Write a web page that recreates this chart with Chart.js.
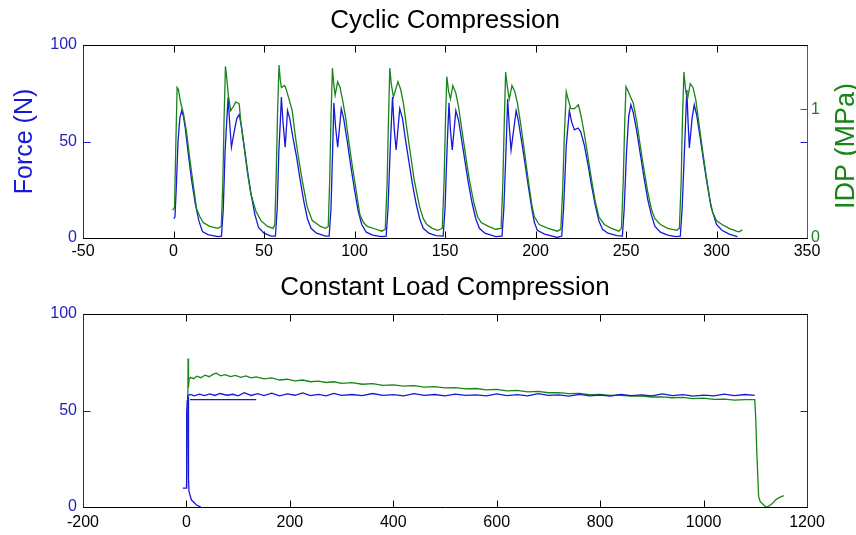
<!DOCTYPE html>
<html>
<head>
<meta charset="utf-8">
<script src="https://cdn.jsdelivr.net/npm/chart.js@4.4.1/dist/chart.umd.min.js"></script>
<style>
html,body{margin:0;padding:0;background:#fff;}
#wrap{position:relative;width:856px;height:535px;overflow:hidden;background:#fff;}
canvas{position:absolute;left:0;display:block;}
#c1{top:0;}
#c2{top:268px;}
</style>
</head>
<body>
<div id="wrap">
<canvas id="c1" width="856" height="268"></canvas>
<canvas id="c2" width="856" height="267"></canvas>
</div>
<script>
// ---------- DATA ----------
const titleCyclic = 'Cyclic Compression';
const titleConstant = 'Constant Load Compression';
const forceLabel = 'Force (N)';
const idpLabel = 'IDP (MPa)';

const cyclicTicksX = [-50, 0, 50, 100, 150, 200, 250, 300, 350];
const forceTicks = [0, 50, 100];
const idpTicks = [0, 1];
const constantTicksX = [-200, 0, 200, 400, 600, 800, 1000, 1200];

// Cyclic test: force [time s, N]
const cyclicForce = [
 [0.2,10],[0.8,11],[1.5,25],[2.5,50],[3.5,62],[4.5,66],[5.5,63],[6.5,57],[8,45],[10,30],[12,18],[14,9],[16,3.3],[19,1.8],[24.5,0.7],
 [26.5,1],[27.5,15],[28.5,45],[29.5,62],[30.2,73],[31,60],[32,47],[33.5,55],[35,62],[36.3,64],[37.5,58],[39,48],[41,34],[43,22],[45,12],[47,5.5],[50,2.5],[54,1],
 [56.3,1],[57.3,15],[58.2,45],[59,60],[59.6,73],[60.5,60],[61.7,47],[63,66],[64.2,62],[66,52],[68,42],[70,30],[72,19],[74,10],[76,5],[79,2.5],[84,1],
 [86,1],[87,15],[88,48],[88.6,70],[89.5,58],[90.7,47],[92.7,67],[94,62],[96,50],[98,37],[100,25],[102,14],[104,7],[106.5,3],[110,1.5],[115,0.7],
 [117.5,1],[118.5,15],[119.8,48],[121,73],[122,56],[123,45.6],[125,67],[126.5,62],[128,52],[130,40],[132,28],[134,18],[136,10],[138,5],[141,2.5],[145,1.2],
 [149,1],[150,15],[151.2,48],[152.2,70],[153,56],[154,45.6],[156,66],[157.5,61],[159,52],[161,40],[163,28],[165,18],[167,10],[169,5],[172,2.5],[178,0.7],
 [181.5,1],[182.5,15],[183.8,48],[184.6,72],[185.5,58],[186.5,45.6],[189.3,66],[190.5,61],[192,52],[194,40],[196,27],[198,15],[199.4,8],[201,4],[205,2],[212,0.3],
 [214.5,1],[215.5,15],[217,48],[218.7,66],[220,60],[221.5,56],[223.5,57],[225,55],[227,48],[229,38],[231,27],[233,17],[235,9],[237,4.5],[240,2.5],[245,1.2],
 [248,1],[249,15],[250.3,45],[251.5,63],[252.7,69],[254,65],[256,55],[258,43],[260,31],[262,20],[264,12],[266,6],[269,3],[273,1.5],[277.5,0.7],
 [280,1],[281,15],[282.5,50],[283.6,76.7],[284.3,60],[285,46.6],[286.5,62],[287.7,69],[289,64],[291,52],[293,39],[295,27],[297,16],[298,13],[300,7],[303,4],[307,2],[311.6,0.7]
];

// Cyclic test: IDP [time s, MPa]
const cyclicIdp = [
 [-0.5,0.218],[0,0.225],[0.6,0.24],[1.2,0.675],[2,1.17],[2.7,1.155],[3.6,1.08],[4.5,1.02],[5.4,0.975],[7.2,0.825],[9,0.615],[11,0.405],[12.8,0.225],[14.6,0.165],[16.4,0.12],[20,0.09],[24.6,0.075],
 [26.4,0.09],[27.3,0.45],[27.9,0.9],[28.7,1.335],[29.3,1.26],[30.3,1.11],[31.6,0.99],[33,1.02],[34.4,1.058],[36.3,1.043],[37.2,0.9],[39,0.705],[40.9,0.504],[42.7,0.345],[45.5,0.21],[48.3,0.135],[52,0.09],[55,0.075],
 [56,0.105],[56.8,0.525],[57.5,0.975],[58.3,1.344],[59,1.23],[59.6,1.17],[61.4,1.185],[62.3,1.155],[63.5,1.095],[65.6,0.99],[67,0.825],[68.4,0.684],[71.1,0.45],[73.9,0.24],[76.7,0.135],[81.3,0.09],[84,0.075],
 [85.5,0.09],[86.3,0.45],[87,0.93],[87.8,1.32],[88.5,1.2],[89.3,1.11],[90.7,1.215],[92,1.17],[93.5,1.065],[95,0.945],[97,0.735],[99,0.54],[101,0.36],[103,0.18],[105,0.12],[107,0.09],[112,0.068],[115,0.053],
 [117,0.068],[118,0.42],[118.8,0.93],[119.5,1.32],[120.3,1.2],[121.5,1.095],[124,1.215],[125.5,1.155],[127,1.05],[129,0.84],[131,0.645],[133,0.45],[136,0.24],[138,0.15],[140,0.105],[143,0.075],[146,0.06],
 [148.5,0.075],[149.5,0.45],[150.3,0.93],[151,1.254],[152,1.14],[153,1.08],[154.3,1.185],[156,1.125],[157.5,1.02],[159.5,0.825],[161.5,0.63],[163.5,0.45],[166,0.27],[168,0.165],[170,0.12],[174,0.09],[178,0.068],
 [181,0.075],[182,0.45],[182.8,0.93],[183.5,1.29],[184.5,1.17],[185.5,1.08],[187,1.185],[188.5,1.14],[190,1.05],[192,0.87],[194,0.66],[196,0.45],[198,0.255],[199.4,0.165],[202,0.105],[207,0.075],[212,0.053],
 [214,0.068],[215,0.375],[216,0.825],[217,1.137],[218,1.08],[219.5,1.005],[221.5,1.005],[223.7,1.035],[225,0.96],[227,0.81],[229,0.63],[231,0.45],[233,0.285],[235,0.165],[238,0.105],[242,0.075],[246,0.053],
 [247.5,0.075],[248.5,0.45],[249.3,0.9],[250,1.176],[251.2,1.14],[252.5,1.095],[254,1.05],[256,0.9],[258,0.705],[260,0.525],[262,0.36],[264,0.225],[266,0.15],[269,0.105],[273,0.075],[278,0.06],
 [279.5,0.075],[280.5,0.45],[281.2,0.93],[282,1.29],[283,1.14],[284,1.08],[285.5,1.2],[287,1.17],[288.5,1.08],[290.5,0.87],[292.5,0.66],[294.5,0.465],[296.5,0.285],[298,0.195],[300,0.135],[303,0.105],[307,0.075],[311,0.053],[312.5,0.048],[314.3,0.063]
];

// Constant load test: force [time s, N]
const constantForce = [
 [-7,9.8],[0,9.8],[0.5,49],[1.5,55],[3,57.8],[8,58.3],[15,57.6],[25,58.5],[35,57.7],[45,58.6],[55,57.8],[65,58.8],[78,57.9],[90,58.4],[100,57.6],
 [112,59.2],[125,57.8],[138,58.7],[150,57.7],[165,59.0],[180,57.6],[195,58.6],[210,57.9],[225,59.1],[240,57.7],[255,58.4],[270,57.6],[285,58.9],
 [300,57.8],[320,58.3],[340,57.7],[360,58.8],[380,57.8],[400,58.2],[420,57.6],[440,58.7],[460,57.8],[480,58.3],[500,57.6],[520,58.5],[540,57.8],
 [560,58.1],[580,57.6],[600,58.6],[620,57.7],[640,58.2],[660,57.6],[680,58.7],[700,57.8],[720,58.1],[740,57.5],[760,58.4],[780,57.6],[800,58.0],
 [820,57.5],[840,58.3],[860,57.7],[880,58.1],[900,57.6],[920,58.6],[940,57.7],[960,58.2],[980,57.5],[1000,58.0],[1020,57.6],[1040,58.5],
 [1060,57.7],[1080,58.3],[1099,57.8]
];
const constantForceFloor = [[7,55.6],[135,55.6]];
const constantForceUnload = [[3.5,57],[4,15],[5,8],[9.8,3.6],[19.5,1],[26,0.2],[28,0]];

// Constant load test: IDP trace, in the plot's own units
const constantIdp = [
 [0,10],[2.5,50],[3.3,77],[4,62],[5,66],[8,67.2],[14,66.5],[20,67.8],[28,67.0],[36,68.3],[44,67.5],[52,68.8],[58,69.3],[66,68.0],[75,68.6],
 [85,67.6],[95,68.2],[105,67.2],[115,67.9],[125,66.9],[135,67.4],[150,66.4],[165,66.9],[180,65.8],[195,66.2],[210,65.4],[225,65.8],[240,64.9],
 [255,65.2],[270,64.5],[285,64.9],[300,64.1],[320,64.4],[340,63.6],[360,63.9],[380,63.0],[400,63.3],[420,62.6],[440,62.9],[460,62.1],[480,62.4],
 [500,61.7],[520,61.9],[540,61.2],[560,61.4],[580,60.7],[600,60.9],[620,60.2],[640,60.4],[660,59.7],[680,59.9],[700,59.2],[720,59.3],[740,58.7],
 [760,58.8],[780,58.2],[800,58.3],[820,57.8],[840,57.9],[860,57.4],[880,57.5],[900,57.0],[920,57.1],[940,56.6],[960,56.8],[980,56.2],[1000,56.4],
 [1020,55.8],[1040,55.9],[1060,55.4],[1080,55.6],[1099,55.6],[1101,45],[1103,28],[1106.5,5.3],[1110,2.5],[1113,1.9],[1118,0.5],[1123,0],
 [1128,0.8],[1134,2],[1139,3.6],[1147,5],[1155,5.9]
];

// ---------- STYLE ----------
const FONT = "'Liberation Sans', Arial, Helvetica, sans-serif";
const BLUE = '#1818d8';
const BLUE_TXT = '#2222bb';
const GREEN = '#178517';
const LINE_W = 1.3;
const toXY = arr => arr.map(p => ({x: p[0], y: p[1]}));
const lineDs = (data, color, axis) => ({data: toXY(data), borderColor: color, borderWidth: LINE_W, pointRadius: 0, tension: 0, fill: false, yAxisID: axis});

const framePlugin = {
  id: 'frame',
  beforeDatasetsDraw(chart, args, o) {
    const {ctx, chartArea: a, scales} = chart;
    const L = a.left + 0.5, R = a.right + 0.5, T = a.top + 0.5, B = a.bottom + 0.5;
    const tl = o.tickLen;
    const line = (x1, y1, x2, y2, c) => { ctx.strokeStyle = c; ctx.beginPath(); ctx.moveTo(x1, y1); ctx.lineTo(x2, y2); ctx.stroke(); };
    ctx.save();
    ctx.lineWidth = 1;
    scales.x.ticks.forEach(t => {
      const px = Math.round(scales.x.getPixelForValue(t.value)) + 0.5;
      line(px, B, px, B - tl, '#000');
      line(px, T, px, T + tl, '#000');
    });
    scales.y.ticks.forEach(t => {
      const py = Math.round(scales.y.getPixelForValue(t.value)) + 0.5;
      line(L, py, L + tl, py, o.leftColor);
      line(R, py, R - tl, py, o.leftColor);
    });
    if (scales.y2) {
      scales.y2.ticks.forEach(t => {
        const py = Math.round(scales.y2.getPixelForValue(t.value)) + 0.5;
        line(R, py, R - tl, py, o.rightColor);
      });
    }
    line(L - 0.5, T, R + 0.5, T, '#000');
    line(L - 0.5, B, R + 0.5, B, '#000');
    line(L, T, L, B, o.leftColor);
    line(R, T, R, B, o.rightColor);
    if (o.rightLabel) {
      ctx.save();
      ctx.translate(o.rightLabel.x, o.rightLabel.y);
      ctx.rotate(-Math.PI / 2);
      ctx.fillStyle = o.rightLabel.color;
      ctx.font = o.rightLabel.size + 'px ' + FONT;
      ctx.textAlign = 'center';
      ctx.textBaseline = 'middle';
      ctx.fillText(o.rightLabel.text, 0, 0);
      ctx.restore();
    }
    ctx.restore();
  }
};

const tickFont = {family: FONT, size: 16};
const fixTicks = vals => function (s) { s.ticks = vals.map(v => ({value: v})); };

// ---------- TOP CHART ----------
new Chart(document.getElementById('c1'), {
  type: 'line',
  data: { datasets: [ lineDs(cyclicIdp, GREEN, 'y2'), lineDs(cyclicForce, BLUE, 'y') ] },
  options: {
    responsive: false, animation: false, devicePixelRatio: 1,
    layout: { padding: 0 },
    plugins: {
      legend: { display: false }, tooltip: { enabled: false },
      title: { display: true, fullSize: false, text: titleCyclic, color: '#000', font: {family: FONT, size: 26, weight: 'normal', lineHeight: 1.2}, padding: {top: 5, bottom: 8.8} },
      frame: { tickLen: 7, leftColor: BLUE, rightColor: GREEN, rightLabel: {text: idpLabel, x: 847, y: 146, size: 27, color: GREEN} }
    },
    scales: {
      x: { type: 'linear', position: 'bottom', min: -50, max: 350,
           afterBuildTicks: fixTicks(cyclicTicksX),
           ticks: { color: '#000', font: tickFont, padding: 4, maxRotation: 0, autoSkip: false, callback: v => String(v) },
           grid: { display: false, drawTicks: false }, border: { display: false },
           afterFit(s) { s.height = 30; } },
      y: { type: 'linear', position: 'left', min: 0, max: 100,
           afterBuildTicks: fixTicks(forceTicks),
           ticks: { color: BLUE_TXT, font: tickFont, padding: 6, callback: v => String(v) },
           grid: { display: false, drawTicks: false }, border: { display: false },
           title: { display: true, text: forceLabel, color: BLUE, font: {family: FONT, size: 25, lineHeight: 1.2}, padding: {top: 10, bottom: 0} },
           afterFit(s) { s.width = 83; } },
      y2: { type: 'linear', position: 'right', min: 0, max: 1.5,
            afterBuildTicks: fixTicks(idpTicks),
            ticks: { color: GREEN, font: tickFont, padding: 4, callback: v => String(v) },
            grid: { display: false, drawTicks: false }, border: { display: false },
            afterFit(s) { s.width = 49; } }
    }
  },
  plugins: [framePlugin]
});

// ---------- BOTTOM CHART ----------
new Chart(document.getElementById('c2'), {
  type: 'line',
  data: { datasets: [
    lineDs(constantForce, BLUE, 'y'),
    lineDs(constantForceFloor, BLUE, 'y'),
    lineDs(constantForceUnload, BLUE, 'y'),
    lineDs(constantIdp, GREEN, 'y')
  ] },
  options: {
    responsive: false, animation: false, devicePixelRatio: 1,
    layout: { padding: {right: 49} },
    plugins: {
      legend: { display: false }, tooltip: { enabled: false },
      title: { display: true, fullSize: false, text: titleConstant, color: '#000', font: {family: FONT, size: 26, weight: 'normal', lineHeight: 1.2}, padding: {top: 4, bottom: 10.8} },
      frame: { tickLen: 7, leftColor: BLUE, rightColor: BLUE }
    },
    scales: {
      x: { type: 'linear', position: 'bottom', min: -200, max: 1200,
           afterBuildTicks: fixTicks(constantTicksX),
           ticks: { color: '#000', font: tickFont, padding: 6, maxRotation: 0, autoSkip: false, callback: v => String(v) },
           grid: { display: false, drawTicks: false }, border: { display: false },
           afterFit(s) { s.height = 28; } },
      y: { type: 'linear', position: 'left', min: 0, max: 100,
           afterBuildTicks: fixTicks(forceTicks),
           ticks: { color: BLUE_TXT, font: tickFont, padding: 6, callback: v => String(v) },
           grid: { display: false, drawTicks: false }, border: { display: false },
           afterFit(s) { s.width = 83; } }
    }
  },
  plugins: [framePlugin]
});
</script>
</body>
</html>
